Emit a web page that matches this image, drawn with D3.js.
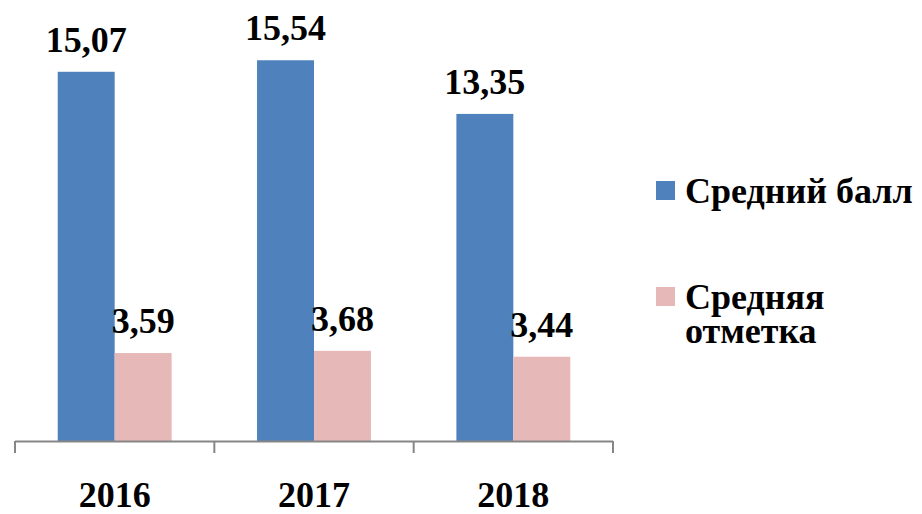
<!DOCTYPE html>
<html><head><meta charset="utf-8">
<script src="https://cdn.jsdelivr.net/npm/d3@7"></script>
<style>
html,body{margin:0;padding:0;background:#fff;}
svg text{font-family:"Liberation Serif","Times New Roman",serif;font-weight:bold;fill:#000;}
</style></head>
<body>
<svg id="chart" width="922" height="514"></svg>
<script>
const categories = ["2016", "2017", "2018"];
const seriesNames = ["Средний балл", "Средняя отметка"];
const avgScore = [15.07, 15.54, 13.35];
const avgMark = [3.59, 3.68, 3.44];
const valueLabels = [["15,07", "15,54", "13,35"], ["3,59", "3,68", "3,44"]];
const colors = ["#4F81BD", "#E6B9B8"];

const series = [avgScore, avgMark];
const svg = d3.select("#chart");

const x = d3.scaleBand().domain(categories).range([15, 613]).padding(0);
const xi = d3.scaleBand().domain(d3.range(series.length)).range([0, x.bandwidth()])
  .paddingInner(0).paddingOuter(0.75);
const y = d3.scaleLinear().domain([0, 16]).range([441, 49]);

// bars
series.forEach((vals, si) => {
  svg.append("g").selectAll("rect").data(vals).join("rect")
    .attr("x", (d, i) => x(categories[i]) + xi(si))
    .attr("y", d => y(d))
    .attr("width", xi.bandwidth())
    .attr("height", d => y(0) - y(d))
    .attr("fill", colors[si]);
  svg.append("g").selectAll("text").data(vals).join("text")
    .attr("x", (d, i) => x(categories[i]) + xi(si) + xi.bandwidth() / 2)
    .attr("y", d => y(d) - 20)
    .attr("text-anchor", "middle")
    .style("font-size", "36px")
    .text((d, i) => valueLabels[si][i]);
});

// axis
const axisColor = "#868686";
const ax = svg.append("g");
ax.append("line").attr("x1", x.range()[0]).attr("x2", x.range()[1])
  .attr("y1", y(0) + 0.5).attr("y2", y(0) + 0.5)
  .attr("stroke", axisColor).attr("stroke-width", 2);
const tickPos = categories.map(c => x(c)).concat([x.range()[1]]);
ax.selectAll("line.tick").data(tickPos).join("line").attr("class", "tick")
  .attr("x1", d => d).attr("x2", d => d)
  .attr("y1", y(0)).attr("y2", y(0) + 12)
  .attr("stroke", axisColor).attr("stroke-width", 2);
ax.selectAll("text").data(categories).join("text")
  .attr("x", d => x(d) + x.bandwidth() / 2)
  .attr("y", 507)
  .attr("text-anchor", "middle")
  .style("font-size", "36px")
  .text(d => d);

// legend
const legendLines = [["Средний балл"], ["Средняя", "отметка"]];
const legendTop = [181, 287];
const lg = svg.append("g");
seriesNames.forEach((name, i) => {
  lg.append("rect").attr("x", 656).attr("y", legendTop[i])
    .attr("width", 19).attr("height", 19).attr("fill", colors[i]);
  const t = lg.append("text").attr("x", 685).attr("y", legendTop[i] + 22)
    .style("font-size", "36px");
  legendLines[i].forEach((ln, k) => {
    t.append("tspan").attr("x", 685).attr("dy", k === 0 ? 0 : 34).text(ln);
  });
});
</script>
</body></html>
